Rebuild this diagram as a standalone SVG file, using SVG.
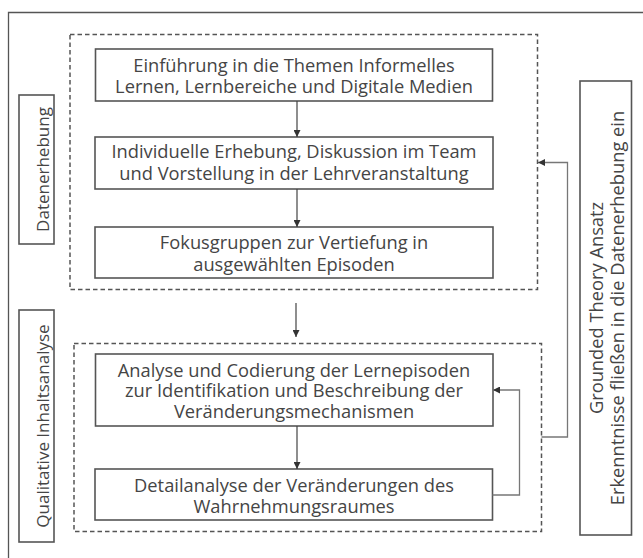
<svg xmlns="http://www.w3.org/2000/svg" width="643" height="558" viewBox="0 0 643 558">
<defs>
<marker id="ah" viewBox="0 0 10 10" refX="10" refY="5" markerWidth="7" markerHeight="7" markerUnits="userSpaceOnUse" orient="auto">
<path d="M0,0 L10,5 L0,10 z" fill="#333"/>
</marker>
<style>
.frame{fill:none;stroke:#555;stroke-width:1.3}
.box{fill:#fff;stroke:#555;stroke-width:1.6}
.dash{fill:none;stroke:#555;stroke-width:1.5;stroke-dasharray:4.5,3}
.lbl{fill:none;stroke:#555;stroke-width:1.6}
.t{font-family:"Open Sans","Noto Sans",sans-serif;font-size:18.3px;fill:#454545;text-anchor:middle}
.v{font-family:"Open Sans","Noto Sans",sans-serif;font-size:17px;fill:#454545;text-anchor:middle}
.c{fill:none;stroke:#444;stroke-width:1.2}
.cg{fill:none;stroke:#777;stroke-width:1.3}
</style>
</defs>
<rect width="643" height="558" fill="#fff"/>
<path class="frame" d="M8.5,570 V12.5 H660"/>

<g id="group-datenerhebung">
<rect class="dash" x="70" y="34.5" width="467.5" height="255"/>
</g>
<g id="group-analyse">
<rect class="dash" x="74" y="343.5" width="467.5" height="188"/>
</g>

<g id="label-datenerhebung">
<rect class="lbl" x="19" y="95" width="35" height="149"/>
<text class="v" transform="translate(42.5,169.5) rotate(-90)" y="6">Datenerhebung</text>
</g>
<g id="label-qualitative">
<rect class="lbl" x="19" y="310" width="35" height="232"/>
<text class="v" transform="translate(42.5,426) rotate(-90)" y="6">Qualitative Inhaltsanalyse</text>
</g>
<g id="label-grounded">
<rect class="lbl" x="580" y="81" width="51.5" height="454"/>
<text class="t" transform="translate(596,308) rotate(-90)" y="6.5">Grounded Theory Ansatz</text>
<text class="t" transform="translate(617,308) rotate(-90)" y="6.5">Erkenntnisse fließen in die Datenerhebung ein</text>
</g>

<g id="node-einfuehrung">
<rect class="box" x="95.5" y="49" width="397" height="52"/>
<text class="t" x="294" y="71.5">Einführung in die Themen Informelles</text>
<text class="t" x="294" y="92.5">Lernen, Lernbereiche und Digitale Medien</text>
</g>
<g id="node-erhebung">
<rect class="box" x="95" y="137" width="398" height="52"/>
<text class="t" x="294" y="158">Individuelle Erhebung, Diskussion im Team</text>
<text class="t" x="294" y="179.5">und Vorstellung in der Lehrveranstaltung</text>
</g>
<g id="node-fokus">
<rect class="box" x="95" y="227" width="398" height="51"/>
<text class="t" x="294" y="248.5">Fokusgruppen zur Vertiefung in</text>
<text class="t" x="294" y="270.5">ausgewählten Episoden</text>
</g>
<g id="node-codierung">
<rect class="box" x="95.5" y="354" width="397.5" height="72"/>
<text class="t" x="294" y="376.5">Analyse und Codierung der Lernepisoden</text>
<text class="t" x="294" y="397">zur Identifikation und Beschreibung der</text>
<text class="t" x="294" y="417.5">Veränderungsmechanismen</text>
</g>
<g id="node-detail">
<rect class="box" x="95" y="469" width="397.5" height="51"/>
<text class="t" x="294" y="491.5">Detailanalyse der Veränderungen des</text>
<text class="t" x="294" y="512.5">Wahrnehmungsraumes</text>
</g>

<g id="connectors">
<path class="c" d="M297,101 V137" marker-end="url(#ah)"/>
<path class="c" d="M297,189 V227" marker-end="url(#ah)"/>
<path class="c" d="M296,303 V337" marker-end="url(#ah)"/>
<path class="c" d="M297,426 V469" marker-end="url(#ah)"/>
<path class="cg" d="M492.5,495 H519.5 V390 H493" marker-end="url(#ah)"/>
<path class="cg" d="M541.5,437 H567.5 V162.5 H538" marker-end="url(#ah)"/>
</g>
</svg>
